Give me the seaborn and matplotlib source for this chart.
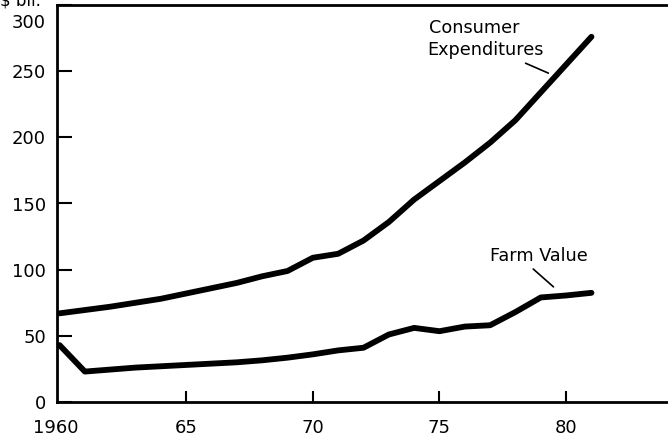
import matplotlib
matplotlib.use("Agg")
import matplotlib.pyplot as plt
import matplotlib.transforms as mtransforms
import seaborn as sns
import pandas as pd

years = list(range(1960, 1982))
consumer_expenditures = [67, 69.5, 72, 75, 78, 82, 86, 90, 95, 99, 109, 112,
                         122, 136, 153, 167, 181, 196, 213, 234, 255, 276]
farm_value = [43, 23, 24.5, 26, 27, 28, 29, 30, 31.5, 33.5, 36, 39,
              41, 51, 56, 53.5, 57, 58, 68, 79, 80.5, 82.5]
x_ticks = [1960, 1965, 1970, 1975, 1980]
x_tick_labels = ["1960", "65", "70", "75", "80"]
y_ticks = [0, 50, 100, 150, 200, 250, 300]

df = pd.DataFrame({
    "year": years * 2,
    "value": consumer_expenditures + farm_value,
    "series": ["Consumer Expenditures"] * len(years) + ["Farm Value"] * len(years),
})

sns.set_style("ticks")
plt.rcParams["font.family"] = ["DejaVu Sans"]
plt.rcParams["text.color"] = "black"

fig = plt.figure(figsize=(6.68, 4.4), dpi=100)
ax = fig.add_axes([57 / 668, 38 / 440, 611 / 668, 397 / 440])

sns.lineplot(data=df, x="year", y="value", hue="series",
             palette=["black", "black"], linewidth=4.2, legend=False, ax=ax)

ax.set_xlim(1959.9, 1959.9 + 611 / 25.33)
ax.set_ylim(0, 300)
ax.set_xticks(x_ticks)
ax.set_xticklabels(x_tick_labels)
ax.set_yticks(y_ticks)
ax.set_xlabel("")
ax.set_ylabel("")
ax.tick_params(axis="both", direction="in", labelsize=13, width=1.5, colors="black")
ax.tick_params(axis="y", length=11, pad=8)
ax.tick_params(axis="x", length=8, pad=12)
for s in ["left", "bottom", "top"]:
    ax.spines[s].set_linewidth(2)
    ax.spines[s].set_color("black")
ax.spines["right"].set_visible(False)

# no separate tick mark at 1960 (it sits on the axis line)
ax.xaxis.get_major_ticks()[0].tick1line.set_visible(False)

# the top label sits a little below its tick in the reference
ylabels = ax.get_yticklabels()
ylabels[-1].set_transform(ylabels[-1].get_transform() +
                          mtransforms.ScaledTranslation(0, -0.16, fig.dpi_scale_trans))
xlabels = ax.get_xticklabels()
xlabels[0].set_transform(xlabels[0].get_transform() +
                         mtransforms.ScaledTranslation(-0.04, 0, fig.dpi_scale_trans))

ax.text(1974.6, 278.5, "Consumer", fontsize=12.7, ha="left", va="baseline", color="black")
ax.text(1974.5, 262, "Expenditures", fontsize=12.7, ha="left", va="baseline", color="black")
ax.plot([1978.4, 1979.3], [256, 248.5], color="black", lw=1.2)
ax.text(1977.0, 106.5, "Farm Value", fontsize=12.7, ha="left", va="baseline", color="black")
ax.plot([1978.7, 1979.5], [100.5, 87], color="black", lw=1.2)

fig.text(0.0, 1.0, "$ bil.", fontsize=12, ha="left", va="center", color="black")

fig.savefig("out.png", dpi=100)
